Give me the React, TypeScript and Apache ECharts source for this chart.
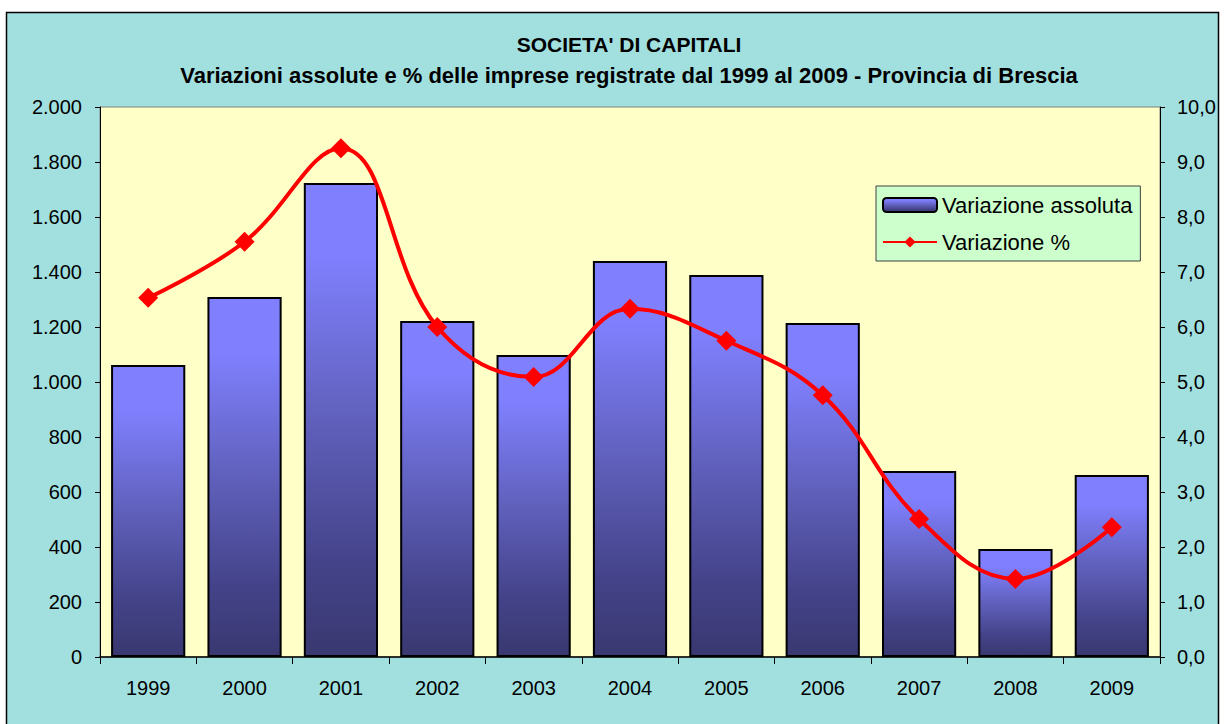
import React, { useEffect, useRef } from "react";
import * as echarts from "echarts";

const categories = ["1999", "2000", "2001", "2002", "2003", "2004", "2005", "2006", "2007", "2008", "2009"];
const absoluteValues = [1062, 1309, 1724, 1222, 1098, 1440, 1389, 1215, 676, 393, 662];
const percentValues = [6.53, 7.55, 9.25, 6.0, 5.09, 6.33, 5.75, 4.76, 2.51, 1.42, 2.36];
const titleMain = "SOCIETA' DI CAPITALI";
const titleSub = "Variazioni assolute e % delle imprese registrate dal 1999 al 2009 - Provincia di Brescia";
const seriesNames = ["Variazione assoluta", "Variazione %"];

const FONT = "Arial, 'Liberation Sans', sans-serif";

function fmtThousands(v: number): string {
  return String(Math.round(v)).replace(/\B(?=(\d{3})+(?!\d))/g, ".");
}

export default function App() {
  const ref = useRef<HTMLDivElement>(null);
  useEffect(() => {
    document.body.style.margin = "0";
    const chart = echarts.init(ref.current!, null, { renderer: "svg" });
    const barGradient = new echarts.graphic.LinearGradient(0, 0, 0, 1, [
      { offset: 0, color: "#8080FF" },
      { offset: 0.15, color: "#8080FF" },
      { offset: 0.5, color: "#6060BC" },
      { offset: 0.8, color: "#44438A" },
      { offset: 1, color: "#3A3870" },
    ]);
    chart.setOption({
      animation: false,
      backgroundColor: "transparent",
      textStyle: { fontFamily: FONT },
      graphic: [
        {
          type: "rect",
          z: -10,
          silent: true,
          shape: { x: 6.5, y: 12.5, width: 1212, height: 720 },
          style: { fill: "#A2E0E0", stroke: "#000", lineWidth: 1.5 },
        },
        {
          type: "text",
          x: 629,
          y: 44,
          style: {
            text: titleMain,
            font: `bold 21px ${FONT}`,
            fill: "#000",
            textAlign: "center",
            textVerticalAlign: "middle",
          },
        },
        {
          type: "text",
          x: 629,
          y: 75,
          style: {
            text: titleSub,
            font: `bold 22px ${FONT}`,
            fill: "#000",
            textAlign: "center",
            textVerticalAlign: "middle",
          },
        },
      ],
      grid: {
        left: 100,
        top: 107,
        right: 67,
        bottom: 67,
        show: true,
        backgroundColor: "#FFFFC8",
        borderColor: "#808080",
        borderWidth: 1,
      },
      legend: {
        orient: "vertical",
        left: 876,
        top: 186,
        backgroundColor: "#CCFFCC",
        borderColor: "#404040",
        borderWidth: 1,
        padding: [8, 8, 8, 6],
        itemGap: 15,
        itemWidth: 54,
        itemHeight: 14,
        textStyle: { fontSize: 22, color: "#000", fontFamily: FONT },
        data: [
          { name: seriesNames[0], itemStyle: { borderColor: "#000", borderWidth: 2 } },
          { name: seriesNames[1] },
        ],
      },
      xAxis: {
        type: "category",
        data: categories,
        axisLine: { lineStyle: { color: "#000", width: 1.5 } },
        axisTick: { show: true, length: 7, lineStyle: { color: "#000" } },
        axisLabel: { color: "#000", fontSize: 20, margin: 21, fontFamily: FONT },
      },
      yAxis: [
        {
          type: "value",
          min: 0,
          max: 2000,
          interval: 200,
          splitLine: { show: false },
          axisLine: { show: true, lineStyle: { color: "#000" } },
          axisTick: { show: true, length: 5, lineStyle: { color: "#000" } },
          axisLabel: { color: "#000", fontSize: 20, margin: 18, fontFamily: FONT, formatter: fmtThousands },
        },
        {
          type: "value",
          min: 0,
          max: 10,
          interval: 1,
          position: "right",
          splitLine: { show: false },
          axisLine: { show: true, lineStyle: { color: "#000" } },
          axisTick: { show: true, length: 5, lineStyle: { color: "#000" } },
          axisLabel: {
            color: "#000",
            fontSize: 20,
            margin: 17,
            fontFamily: FONT,
            formatter: (v: number) => v.toFixed(1).replace(".", ","),
          },
        },
      ],
      series: [
        {
          name: seriesNames[0],
          type: "bar",
          data: absoluteValues,
          barCategoryGap: "23%",
          itemStyle: { color: barGradient, borderColor: "#000", borderWidth: 2 },
        },
        {
          name: seriesNames[1],
          type: "line",
          yAxisIndex: 1,
          data: percentValues,
          smooth: 0.4,
          symbol: "diamond",
          symbolSize: 20,
          lineStyle: { color: "#FF0000", width: 4 },
          itemStyle: { color: "#FF0000" },
        },
      ],
    });
    return () => chart.dispose();
  }, []);
  return <div ref={ref} style={{ position: "absolute", left: 0, top: 0, width: 1227, height: 724 }} />;
}
